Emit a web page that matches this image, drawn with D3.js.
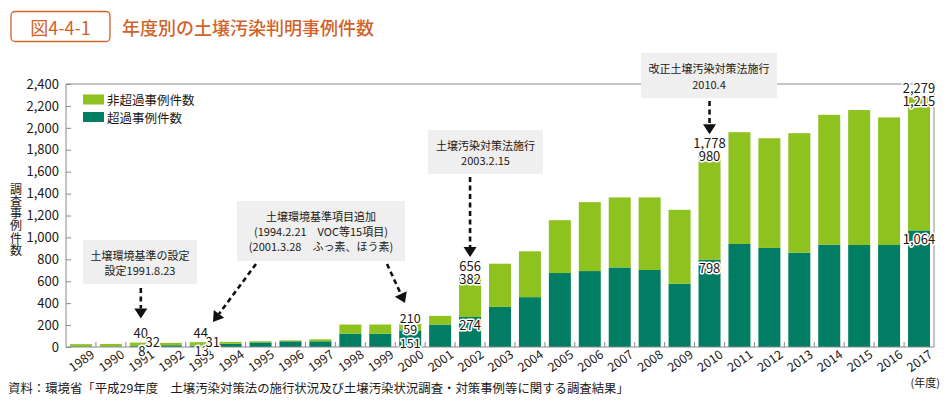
<!DOCTYPE html>
<html><head><meta charset="utf-8">
<script src="https://cdn.jsdelivr.net/npm/d3@7/dist/d3.min.js"></script>
<style>
html,body{margin:0;padding:0;background:#fff;}
svg{display:block;font-family:"Noto Sans CJK JP","Noto Sans",sans-serif;}
</style></head>
<body><svg id="c" width="948" height="407"></svg>
<script>
const years = ["1989","1990","1991","1992","1993","1994","1995","1996","1997","1998","1999","2000","2001","2002","2003","2004","2005","2006","2007","2008","2009","2010","2011","2012","2013","2014","2015","2016","2017"];
const exceedCases = [4,4,8,16,13,30,42,52,52,122,122,151,205,274,366,455,675,693,726,703,577,798,940,904,861,934,931,931,1064];
const nonExceedCases = [22,24,32,22,31,17,10,8,18,83,83,59,79,382,394,418,482,629,639,662,675,980,1020,1001,1090,1185,1231,1164,1215];
const yTicks = [0,200,400,600,800,1000,1200,1400,1600,1800,2000,2200,2400];
const seriesNames = ["非超過事例件数","超過事例件数"];
const labeledYears = ["1991","1993","2000","2002","2010","2017"];
const figNo = "図4-4-1";
const titleText = "年度別の土壌汚染判明事例件数";
const yTitle = "調査事例件数";
const sourceText = "資料：環境省「平成29年度　土壌汚染対策法の施行状況及び土壌汚染状況調査・対策事例等に関する調査結果」";
const unitText = "(年度)";
const note1 = ["土壌環境基準の設定","設定1991.8.23"];
const note2 = ["土壌環境基準項目追加","(1994.2.21　VOC等15項目)","(2001.3.28　ふっ素、ほう素)"];
const note3 = ["土壌汚染対策法施行","2003.2.15"];
const note4 = ["改正土壌汚染対策法施行","2010.4"];

const C_LIGHT = "#8dc21f", C_DARK = "#007d62", C_ORANGE = "#d0622a", C_TEXT = "#231815", C_AXIS = "#8a8a8a";

const svg = d3.select("#c");
const rows = years.map((y,i)=>({year:y, exceed:exceedCases[i], non:nonExceedCases[i]}));
const L = 66, R = 934, T = 84, B = 347;
const pad = 0.265;
const x = d3.scaleBand().domain(years).range([L,R]).paddingInner(pad).paddingOuter(pad/2);
const y = d3.scaleLinear().domain([0,2400]).range([B,T]);
const cx = d => x(d) + x.bandwidth()/2;

// title
svg.append("rect").attr("x",11).attr("y",11.5).attr("width",99).attr("height",30).attr("rx",4)
  .attr("fill","#fff").attr("stroke",C_ORANGE).attr("stroke-width",1.3);
svg.append("text").attr("x",60.5).attr("y",27).attr("text-anchor","middle").attr("dominant-baseline","central")
  .attr("font-size",18).attr("fill",C_ORANGE).text(figNo);
svg.append("text").attr("x",122).attr("y",27).attr("dominant-baseline","central")
  .attr("font-size",18).attr("font-weight",500).attr("fill",C_ORANGE).text(titleText);

// frame
svg.append("path").attr("d",`M${L},${B}V${T}H${R}V${B}`).attr("fill","none").attr("stroke",C_AXIS).attr("stroke-width",1);

// y axis
const yAxis = d3.axisLeft(y).tickValues(yTicks).tickFormat(d3.format(",")).tickSize(-5).tickPadding(7);
const ya = svg.append("g").attr("transform",`translate(${L},0)`).call(yAxis);
ya.select(".domain").remove();
ya.selectAll(".tick line").attr("stroke",C_AXIS);
ya.selectAll(".tick text").attr("font-size",13).attr("fill",C_TEXT).attr("font-family","'Noto Sans CJK JP',sans-serif");

// y title vertical
const yt = svg.append("text").attr("font-size",12).attr("fill",C_TEXT).attr("text-anchor","middle");
Array.from(yTitle).forEach((ch,i)=>{
  yt.append("tspan").attr("x",16).attr("y",188+i*12.3).attr("dominant-baseline","central").text(ch);
});

// bars
const stack = d3.stack().keys(["exceed","non"])(rows);
const colors = {exceed:C_DARK, non:C_LIGHT};
svg.append("g").selectAll("g").data(stack).join("g").attr("fill",d=>colors[d.key])
  .selectAll("rect").data(d=>d).join("rect")
  .attr("x",d=>x(d.data.year)).attr("width",x.bandwidth())
  .attr("y",d=>y(d[1])).attr("height",d=>y(d[0])-y(d[1]));

// x axis
svg.append("line").attr("x1",L).attr("x2",R).attr("y1",B).attr("y2",B).attr("stroke",C_AXIS);
const step = x.step();
svg.append("g").selectAll("line").data(years.slice(1)).join("line")
  .attr("x1",d=>x(d)-step*pad/2).attr("x2",d=>x(d)-step*pad/2)
  .attr("y1",B).attr("y2",B-5).attr("stroke",C_AXIS);
svg.append("g").selectAll("text").data(years).join("text")
  .attr("transform",d=>`translate(${cx(d)},${B+13}) rotate(-35)`)
  .attr("text-anchor","middle").attr("dominant-baseline","central")
  .attr("font-size",12.5).attr("fill",C_TEXT).text(d=>d);

// legend
const lg = svg.append("g");
[[C_LIGHT,seriesNames[0],99.5],[C_DARK,seriesNames[1],117]].forEach(([c,t,yy])=>{
  lg.append("rect").attr("x",83).attr("y",yy-5).attr("width",21).attr("height",10).attr("fill",c);
  lg.append("text").attr("x",107).attr("y",yy).attr("dominant-baseline","central").attr("font-size",12.5).attr("fill",C_TEXT).text(t);
});

// value labels
const fmt = d3.format(",");
const lab = svg.append("g").attr("font-size",13).attr("fill",C_TEXT).attr("text-anchor","middle")
  .attr("stroke","#fff").attr("stroke-width",3).attr("stroke-linejoin","round").attr("paint-order","stroke");
function addLabel(xx,yy,v,fs){ const t = lab.append("text").attr("x",xx).attr("y",yy).attr("dominant-baseline","central").text(fmt(v)); if(fs) t.attr("font-size",fs); }
rows.filter(r=>labeledYears.includes(r.year)).forEach(r=>{
  const tot = r.exceed + r.non, c = cx(r.year);
  if (tot < 100) {
    addLabel(c, y(tot)-10, tot);
    addLabel(c+1, B+3, r.exceed);
    addLabel(c+12, y(tot)-1, r.non);
  } else if (tot < 300) {
    addLabel(c, y(tot)-6, tot, 12.5);
    addLabel(c, (y(tot)+y(r.exceed))/2+1, r.non, 12.5);
    addLabel(c, B-5, r.exceed, 12.5);
  } else {
    addLabel(c, y(tot)-10, tot);
    addLabel(c, y(tot)+3, r.non);
    addLabel(c, y(r.exceed)+8, r.exceed);
  }
});

// annotations
const ann = svg.append("g");
function box(x0,y0,w,h,lines,lh){
  ann.append("rect").attr("x",x0).attr("y",y0).attr("width",w).attr("height",h).attr("fill","#efefef");
  const t = ann.append("text").attr("font-size",11).attr("fill",C_TEXT).attr("text-anchor","middle");
  const mid = y0+h/2, n = lines.length;
  lines.forEach((s,i)=>{
    t.append("tspan").attr("x",x0+w/2).attr("y",mid+(i-(n-1)/2)*lh).attr("dominant-baseline","central").text(s);
  });
}
function arrow(x1,y1,x2,y2){
  const dx=x2-x1, dy=y2-y1, len=Math.hypot(dx,dy), ux=dx/len, uy=dy/len;
  const hl=10, hw=6.5;
  const bx=x2-ux*hl, by=y2-uy*hl;
  ann.append("line").attr("x1",x1).attr("y1",y1).attr("x2",bx).attr("y2",by)
    .attr("stroke","#111").attr("stroke-width",2.6).attr("stroke-dasharray","5,3.5");
  ann.append("path").attr("d",`M${x2},${y2}L${bx-uy*hw},${by+ux*hw}L${bx+uy*hw},${by-ux*hw}Z`).attr("fill","#111");
}
const tot = yr => { const i = years.indexOf(yr); return exceedCases[i]+nonExceedCases[i]; };

box(83,240,114,44,note1,15);
arrow(cx("1991"),288,cx("1991"),y(tot("1991"))-24);

box(237,201,168,60,note2,15);
arrow(256,264,213,322);
arrow(387,264,405,y(tot("2000"))-21);

box(428,130,115,44,note3,15);
arrow(cx("2002"),177,cx("2002"),y(tot("2002"))-18);

box(641,53,136,45,note4,16);
arrow(cx("2010"),101,cx("2010"),y(tot("2010"))-18);

// footer
svg.append("text").attr("x",8).attr("y",388).attr("dominant-baseline","central")
  .attr("font-size",12.4).attr("fill",C_TEXT).text(sourceText);
svg.append("text").attr("x",940).attr("y",382).attr("text-anchor","end").attr("dominant-baseline","central")
  .attr("font-size",11).attr("fill",C_TEXT).text(unitText);
</script></body></html>
